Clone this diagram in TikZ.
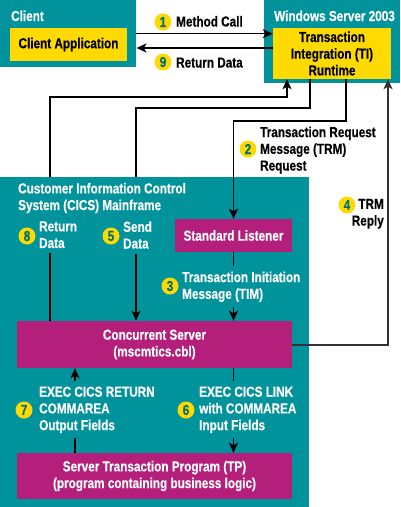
\documentclass[tikz,border=0pt]{standalone}
\usepackage{fontspec}
\setmainfont{Liberation Sans}[FakeStretch=0.81, BoldFeatures={FakeBold=0.4}]
\usetikzlibrary{arrows.meta}
\definecolor{cteal}{HTML}{00939B}
\definecolor{cyel}{HTML}{FFDA00}
\definecolor{cmag}{HTML}{B31F7A}
\definecolor{cnum}{HTML}{00707A}
\definecolor{cdark}{HTML}{333333}
\begin{document}
\begin{tikzpicture}[x=1pt,y=-1pt,
  font=\fontsize{14.5}{16.7}\selectfont\bfseries,
  panel/.style={fill=cteal, draw=none, inner sep=0pt, anchor=north west},
  ybox/.style={fill=cyel, draw=none, inner sep=0pt, align=center, text=black},
  mbox/.style={fill=cmag, draw=none, inner sep=0pt, align=center, text=white},
  badge/.style={circle, fill=cyel, text=cnum, inner sep=0pt, minimum size=17pt},
  lbl/.style={inner xsep=0pt, inner ysep=5pt, align=left, anchor=north west},
  ttl/.style={inner sep=0pt, anchor=base west, text=white},
  conn/.style={line width=1.4pt, black},
  arr/.style={conn, -{Stealth[length=10pt,width=9pt,inset=2.5pt]}},
]
\useasboundingbox (0,0) rectangle (400,507);
\fill[white] (0,0) rectangle (400,507);

% panels
\node[panel, minimum width=136pt, minimum height=67pt] (client) at (0,0) {};
\node[panel, minimum width=136pt, minimum height=83pt] (win) at (264,0) {};
\node[panel, minimum width=309pt, minimum height=330pt] (cics) at (0,177) {};

% titles
\node[ttl] (tclient) at (11,21) {Client};
\node[ttl] (twin) at (274,21) {Windows Server 2003};
\node[lbl, text=white] (tcics) at (18,177.7) {Customer Information Control\\System (CICS) Mainframe};

% boxes
\node[ybox, minimum width=117pt, minimum height=33pt] (capp) at (68.5,44.5) {Client Application};
\node[ybox, minimum width=118pt, minimum height=51pt] (ti) at (332,53.5) {Transaction\\Integration (TI)\\Runtime};
\node[mbox, minimum width=117pt, minimum height=33pt] (sl) at (233.5,235.5) {Standard Listener};
\node[mbox, minimum width=275pt, minimum height=47pt] (cs) at (154.5,344.5) {Concurrent Server\\(mscmtics.cbl)};
\node[mbox, minimum width=275pt, minimum height=46pt] (tp) at (154.5,476) {Server Transaction Program (TP)\\(program containing business logic)};

% labels
\node[inner sep=0pt, anchor=base west] (lab1) at (176,26.5) {Method Call};
\node[inner sep=0pt, anchor=base west] (lab9) at (176,67.5) {Return Data};
\node[lbl] (lab2) at (260,121.4) {Transaction Request\\Message (TRM)\\Request};
\node[lbl, anchor=north east, align=right] (lab4) at (384,193.7) {TRM\\Reply};
\node[lbl, text=white] (lab8) at (39,216.1) {Return\\Data};
\node[lbl, text=white] (lab5) at (123,216.1) {Send\\Data};
\node[lbl, text=white] (lab3) at (182,266.4) {Transaction Initiation\\Message (TIM)};
\node[lbl, text=white] (lab7) at (39,381.4) {EXEC CICS RETURN\\COMMAREA\\Output Fields};
\node[lbl, text=white] (lab6) at (199,381.4) {EXEC CICS LINK\\with COMMAREA\\Input Fields};

% badges
\node[badge] (b1) at (163,22) {1};
\node[badge] (b9) at (163,62) {9};
\node[badge] (b2) at (248,149) {2};
\node[badge] (b4) at (347,205) {4};
\node[badge] (b8) at (27,236) {8};
\node[badge] (b5) at (111,236) {5};
\node[badge] (b3) at (170,286) {3};
\node[badge] (b7) at (24,410) {7};
\node[badge] (b6) at (186,410) {6};

% helper coordinates
\coordinate (yret) at (0,48);
\coordinate (c8) at (50,97);
\coordinate (c8t) at (287,0);
\coordinate (c5a) at (310,108);
\coordinate (c5b) at (136,108);
\coordinate (c2) at (346,121);
\coordinate (c4) at (388,0);
\coordinate (c7) at (75,0);

% connectors
\draw[arr] (client.east) -- (client.east -| ti.west);
\draw[arr] (ti.west |- yret) -- (client.east |- yret);

\draw[conn] (cs.north -| c8) -- (lab8.south -| c8);
\draw[arr] (cics.north -| c8) -- (c8) -| (ti.south -| c8t);

\draw[conn] (ti.south -| c5a) -- (c5a) -- (c5b) -- (cics.north -| c5b);
\draw[arr] (lab5.south -| c5b) -- (cs.north -| c5b);

\draw[arr] (ti.south -| c2) -- (c2) -- (sl.north |- c2) -- (sl.north);

\draw[conn] (sl.south) -- (lab3.north -| sl.south);
\draw[arr] (lab3.south -| sl.south) -- (cs.north -| sl.south);

\draw[arr, line width=2pt, cdark] (cs.east) -| (ti.south -| c4);

\draw[conn] (tp.north -| c7) -- (lab7.south -| c7);
\draw[arr] (lab7.north -| c7) -- (cs.south -| c7);

\draw[conn] (cs.south -| sl.south) -- (lab6.north -| sl.south);
\draw[arr] (lab6.south -| sl.south) -- (tp.north -| sl.south);
\end{tikzpicture}
\end{document}
